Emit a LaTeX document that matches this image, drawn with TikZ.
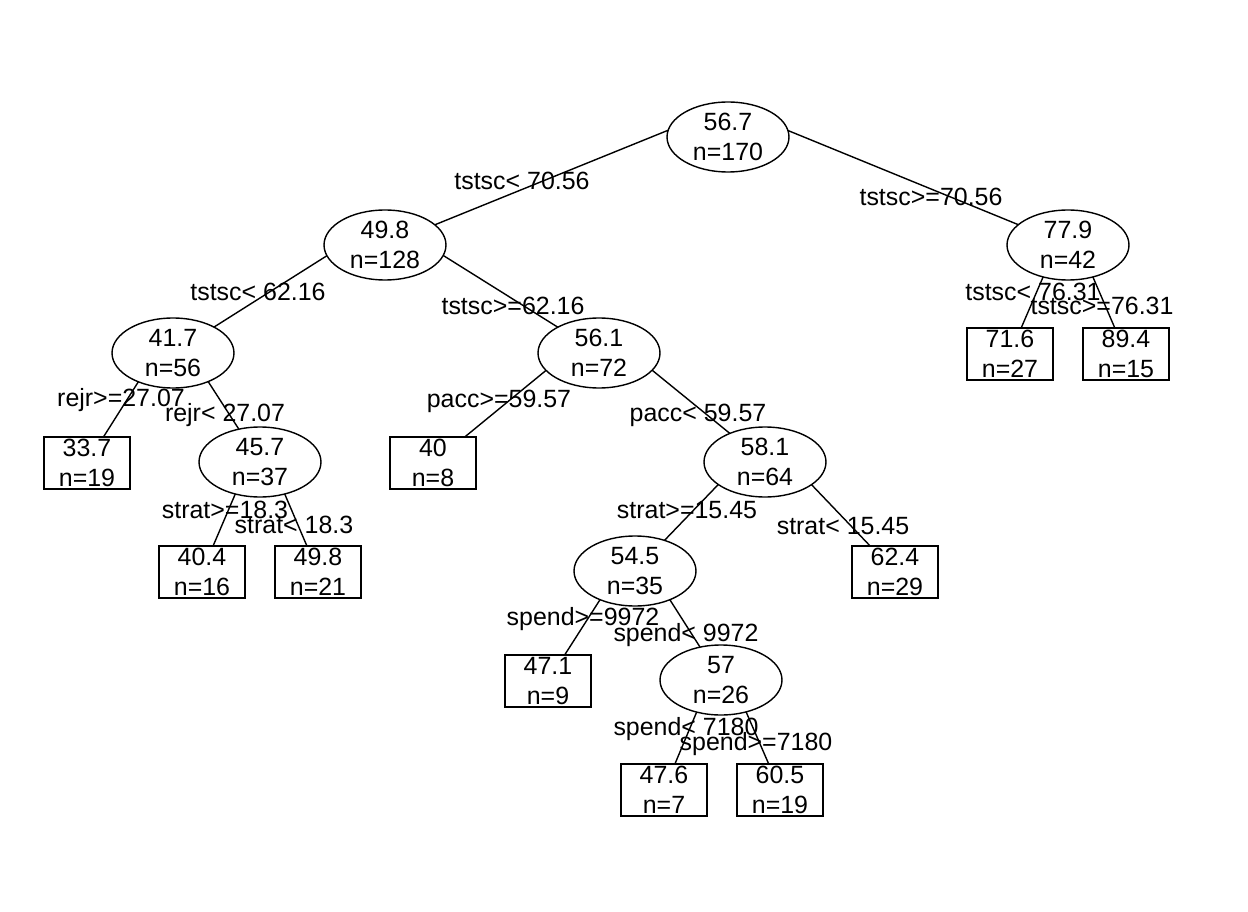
\documentclass[tikz,border=0pt]{standalone}
\usepackage{fontspec}
\setmainfont{Liberation Sans}
\usetikzlibrary{calc,shapes.geometric}
\pgfdeclarelayer{bg}
\pgfsetlayers{bg,main}
\tikzset{
	split/.style={ellipse, draw, fill=white, minimum width=2.44cm, minimum height=1.4cm, inner sep=0pt, align=center},
	leaf/.style={rectangle, draw, fill=white, minimum width=1.72cm, minimum height=1.04cm, inner sep=0pt, align=center},
	branch/.style={line width=0.8pt},
	cond/.style={anchor=base, inner sep=0pt}
}

\begin{document}
\begin{tikzpicture}[x=0.02cm, y=-0.02cm, line width=0.8pt, font=\fontsize{14.2}{17}\selectfont]
			%%%%% START %%%%%
			\useasboundingbox (0,0) rectangle (1248,912);
			
			% split nodes
			\node[split] (r) at (728,137) {56.7\\n=170};
			\node[split] (a) at (385,245) {49.8\\n=128};
			\node[split] (b) at (1068,245) {77.9\\n=42};
			\node[split] (c) at (173,353) {41.7\\n=56};
			\node[split] (d) at (599,353) {56.1\\n=72};
			\node[split] (e) at (260,462) {45.7\\n=37};
			\node[split] (f) at (765,462) {58.1\\n=64};
			\node[split] (g) at (635,571) {54.5\\n=35};
			\node[split] (h) at (721,680) {57\\n=26};
			
			% leaves
			\node[leaf] (l1) at (87,463) {33.7\\n=19};
			\node[leaf] (l2) at (202,572) {40.4\\n=16};
			\node[leaf] (l3) at (318,572) {49.8\\n=21};
			\node[leaf] (l4) at (433,463) {40\\n=8};
			\node[leaf] (l5) at (895,572) {62.4\\n=29};
			\node[leaf] (l6) at (548,681) {47.1\\n=9};
			\node[leaf] (l7) at (664,790) {47.6\\n=7};
			\node[leaf] (l8) at (780,790) {60.5\\n=19};
			\node[leaf] (l9) at (1010,354) {71.6\\n=27};
			\node[leaf] (l10) at (1126,354) {89.4\\n=15};
			
			% branches, under the nodes
			\begin{pgfonlayer}{bg}
				\foreach \p/\c/\d in {r/a/31, r/b/31, a/c/26, a/d/26, b/l9/26, b/l10/26,
					c/l1/26, c/e/26, d/l4/26, d/f/26, e/l2/26, e/l3/26,
					f/g/26, f/l5/26, g/l6/26, g/h/26, h/l7/26, h/l8/26}
					\draw[branch] ($(\p.center)+(0,-\d)$) -- (\c.center);
			\end{pgfonlayer}
			
			% split labels
			\node[cond] at (522,190) {tstsc< 70.56};
			\node[cond] at (931,206) {tstsc>=70.56};
			\node[cond] at (258,300) {tstsc< 62.16};
			\node[cond] at (513,315) {tstsc>=62.16};
			\node[cond] at (1033,300) {tstsc< 76.31};
			\node[cond] at (1102,315) {tstsc>=76.31};
			\node[cond] at (121,406) {rejr>=27.07};
			\node[cond] at (225,421) {rejr< 27.07};
			\node[cond] at (499,407) {pacc>=59.57};
			\node[cond] at (698,421) {pacc< 59.57};
			\node[cond] at (225,518) {strat>=18.3};
			\node[cond] at (294,533) {strat< 18.3};
			\node[cond] at (687,518) {strat>=15.45};
			\node[cond] at (843,534) {strat< 15.45};
			\node[cond] at (583,625) {spend>=9972};
			\node[cond] at (686,641) {spend< 9972};
			\node[cond] at (686,735) {spend< 7180};
			\node[cond] at (756,750) {spend>=7180};
			
			%%%%% END %%%%%
\end{tikzpicture}
\end{document}
